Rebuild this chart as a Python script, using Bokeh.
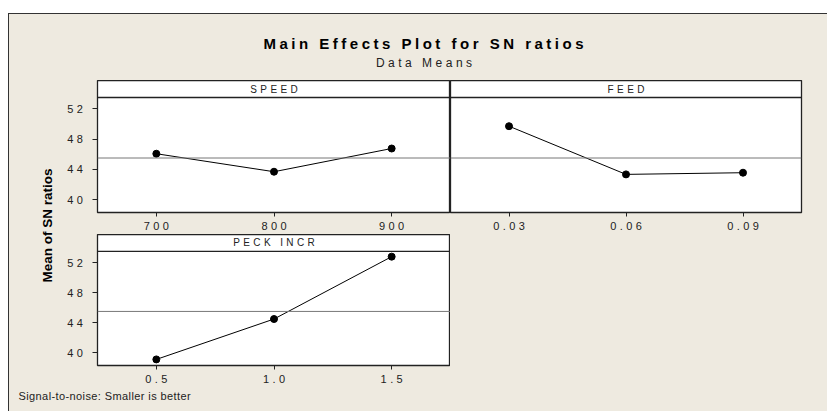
import numpy as np
from bokeh.plotting import figure
from bokeh.models import Range1d, Label, Span, FixedTicker, LinearAxis
from bokeh.layouts import column, row
from bokeh.embed import file_html
from bokeh.resources import INLINE

# ---------------- data ----------------
speed_levels = ["700", "800", "900"]
speed_sn = [46.07, 43.69, 46.76]
feed_levels = ["0.03", "0.06", "0.09"]
feed_sn = [49.71, 43.34, 43.56]
peck_levels = ["0.5", "1.0", "1.5"]
peck_sn = [39.11, 44.49, 52.80]
y_ticks = [40, 44, 48, 52]

title_text = "Main Effects Plot for SN ratios"
subtitle_text = "Data Means"
y_label_text = "Mean of SN ratios"
footer_text = "Signal-to-noise: Smaller is better"

grand_mean = float(np.mean(speed_sn + feed_sn + peck_sn))

# ---------------- style ----------------
BG = "#EEEAE0"
FONT = "Liberation Sans"
DARK = "#222222"
Y_LO, Y_HI = 38.3, 55.75
STRIP_Y = 53.5
SP = 3.4        # letter spacing inside panels (px)
SP_HEAD = 3.5   # letter spacing of title / subtitle
SP_FOOT = 0.4


def shift(text, sp):
    # Bokeh places text by its unspaced width; compensate the extra spacing for centring
    return -(len(text) - 1) * sp / 2


def blank(width, height, spacing=None):
    p = figure(width=width, height=height, x_range=Range1d(0, width), y_range=Range1d(0, height),
               x_axis_location=None, y_axis_location=None, output_backend="svg",
               toolbar_location=None, min_border=0)
    p.grid.visible = False
    p.outline_line_color = None
    p.background_fill_color = BG
    p.border_fill_color = BG
    if spacing:
        p.styles = {"letter-spacing": spacing}
    return p


def panel(name, levels, vals, frame_w, frame_h, left, right, show_y):
    n = len(levels)
    pos = list(range(n))                       # level positions (equally spaced levels)
    px_per_unit = frame_w / n
    d = -shift(levels[0], SP) / px_per_unit
    p = figure(x_range=Range1d(-0.5, n - 0.5), y_range=Range1d(Y_LO, Y_HI),
               width=left + frame_w + right, height=frame_h + 22,
               min_border_left=left, min_border_right=right, min_border_top=0,
               min_border_bottom=22, output_backend="svg", toolbar_location=None,
               y_axis_location="left" if show_y else None)
    p.styles = {"letter-spacing": f"{SP}px"}
    p.background_fill_color = "white"
    p.border_fill_color = BG
    p.outline_line_color = DARK
    p.outline_line_width = 1.3
    p.grid.visible = False

    # axis carrying the tick marks
    xa = p.xaxis[0]
    xa.ticker = FixedTicker(ticks=pos)
    xa.axis_line_color = None
    xa.major_tick_out = 4
    xa.major_tick_in = 0
    xa.major_tick_line_color = DARK
    xa.minor_tick_line_color = None
    xa.major_label_overrides = {i: "" for i in pos}
    xa.major_label_standoff = 0

    # axis carrying the tick labels, offset to compensate the letter spacing
    p.extra_x_ranges = {"lab": Range1d(-0.5 + d, n - 0.5 + d)}
    lab_axis = LinearAxis(x_range_name="lab", ticker=FixedTicker(ticks=pos),
                          major_label_overrides={i: lv for i, lv in zip(pos, levels)},
                          axis_line_color=None, major_tick_line_color=None,
                          minor_tick_line_color=None, major_tick_out=0, major_tick_in=0,
                          major_label_standoff=5, major_label_text_font=FONT,
                          major_label_text_font_size="11px", major_label_text_color=DARK)
    p.add_layout(lab_axis, "below")

    if show_y:
        ya = p.yaxis[0]
        ya.ticker = FixedTicker(ticks=y_ticks)
        ya.axis_line_color = None
        ya.major_tick_out = 5
        ya.major_tick_in = 0
        ya.major_tick_line_color = DARK
        ya.minor_tick_line_color = None
        ya.major_label_standoff = 13
        ya.major_label_text_font = FONT
        ya.major_label_text_font_size = "11px"
        ya.major_label_text_color = DARK

    p.add_layout(Span(location=grand_mean, dimension="width", line_color="#777777", line_width=1))
    p.add_layout(Span(location=STRIP_Y, dimension="width", line_color=DARK, line_width=1.3))
    p.add_layout(Label(x=frame_w / 2 + shift(name, SP), x_units="screen", y=(STRIP_Y + Y_HI) / 2,
                       text=name, text_align="center", text_baseline="middle", text_font=FONT,
                       text_font_size="10px", text_color=DARK))
    p.line(pos, vals, line_color="black", line_width=1)
    p.scatter(pos, vals, size=7, color="black")
    return p


W = 818
header = blank(W, 66, f"{SP_HEAD}px")
header.add_layout(Label(x=414 + shift(title_text, SP_HEAD), y=37, text=title_text,
                        text_align="center", text_baseline="middle", text_font=FONT,
                        text_font_size="15px", text_font_style="bold", text_color="black"))
header.add_layout(Label(x=414.5 + shift(subtitle_text, SP_HEAD), y=18, text=subtitle_text,
                        text_align="center", text_baseline="middle", text_font=FONT,
                        text_font_size="12px", text_color=DARK))

ylab = blank(50, 307)
ylab.add_layout(Label(x=38, y=162, text=y_label_text, angle=np.pi / 2, text_align="center",
                      text_baseline="middle", text_font=FONT, text_font_size="13.5px",
                      text_font_style="bold", text_color="black"))

p_speed = panel("SPEED", speed_levels, speed_sn, 353, 132, 38, 0, True)
p_feed = panel("FEED", feed_levels, feed_sn, 351, 132, 0, W - 50 - 391 - 351, False)
p_peck = panel("PECK INCR", peck_levels, peck_sn, 353, 131, 38, 0, True)

footer = blank(W, 24, f"{SP_FOOT}px")
footer.add_layout(Label(x=9, y=16, text=footer_text, text_align="left", text_baseline="middle",
                        text_font=FONT, text_font_size="11px", text_color=DARK))

layout = column(
    header,
    row(ylab, column(row(p_speed, p_feed), row(p_peck))),
    footer,
    margin=(13, 0, 0, 8),
    styles={"background-color": BG, "border-top": "1px solid #333333",
            "border-left": "1px solid #333333"},
)

open("out.html", "w").write(file_html(layout, INLINE))
